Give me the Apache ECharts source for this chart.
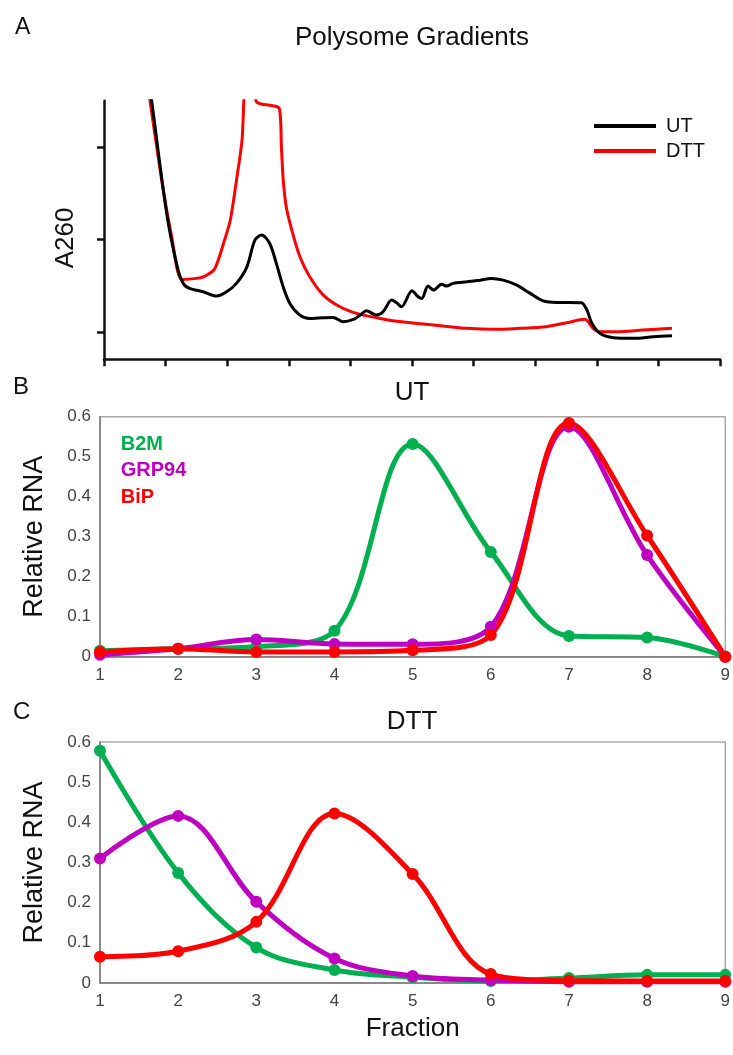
<!DOCTYPE html>
<html><head><meta charset="utf-8">
<script src="https://cdn.jsdelivr.net/npm/echarts@6/dist/echarts.min.js"></script>
<style>html,body{margin:0;padding:0;background:#fff}#c{width:733px;height:1055px}</style>
</head><body><div id="c"></div>
<script>
// ---- Panel A: polysome absorbance traces ([position, A260]) ----
var utTrace = [[0.73,3.0],[0.774,2.79],[1.018,1.573],[1.19,0.998],[1.287,0.819],[1.39,0.765],[1.61,0.729],[1.83,0.682],[1.99,0.729],[2.15,0.819],[2.32,0.998],[2.45,1.286],[2.56,1.34],[2.69,1.25],[2.80,1.03],[2.91,0.78],[3.02,0.60],[3.18,0.477],[3.34,0.44],[3.56,0.448],[3.72,0.452],[3.88,0.405],[4.05,0.43],[4.16,0.477],[4.26,0.524],[4.42,0.477],[4.53,0.513],[4.67,0.639],[4.75,0.61],[4.83,0.567],[5.0,0.739],[5.10,0.675],[5.16,0.657],[5.26,0.79],[5.35,0.747],[5.48,0.811],[5.56,0.79],[5.67,0.819],[5.89,0.836],[6.10,0.854],[6.29,0.873],[6.48,0.854],[6.70,0.80],[6.92,0.711],[7.13,0.63],[7.35,0.614],[7.56,0.614],[7.75,0.61],[7.84,0.531],[7.92,0.388],[8.05,0.28],[8.27,0.233],[8.59,0.226],[8.92,0.244],[9.22,0.255]];
var dttTrace = [[0.70,3.0],[0.747,2.79],[0.937,1.93],[1.10,1.32],[1.26,0.862],[1.50,0.873],[1.64,0.898],[1.80,0.98],[1.94,1.25],[2.05,1.50],[2.15,1.93],[2.24,2.36],[2.27,2.79],[2.31,3.4],[2.42,3.4],[2.47,2.786],[2.846,2.705],[2.88,2.29],[2.91,1.93],[2.96,1.64],[3.05,1.39],[3.18,1.106],[3.34,0.89],[3.56,0.693],[3.83,0.567],[4.10,0.496],[4.43,0.448],[4.75,0.41],[5.10,0.385],[5.35,0.37],[5.89,0.334],[6.32,0.323],[6.75,0.334],[7.18,0.351],[7.51,0.394],[7.81,0.431],[7.86,0.405],[7.94,0.334],[8.05,0.297],[8.32,0.297],[8.75,0.316],[9.22,0.334]];
var aYTicks = [0.29, 1.29, 2.29];

// ---- Panels B and C: relative RNA per fraction ----
var fractions = [1, 2, 3, 4, 5, 6, 7, 8, 9];
var utB2M   = [0.015, 0.02, 0.025, 0.065, 0.532, 0.262, 0.052, 0.048, 0.0];
var utGRP94 = [0.005, 0.02, 0.043, 0.032, 0.031, 0.075, 0.575, 0.254, 0.0];
var utBiP   = [0.012, 0.02, 0.012, 0.012, 0.016, 0.054, 0.584, 0.303, 0.0];
var dttB2M   = [0.578, 0.274, 0.088, 0.032, 0.014, 0.005, 0.012, 0.02, 0.02];
var dttGRP94 = [0.31, 0.416, 0.202, 0.061, 0.017, 0.007, 0.003, 0.003, 0.003];
var dttBiP   = [0.065, 0.079, 0.152, 0.422, 0.271, 0.022, 0.006, 0.005, 0.005];

var FONT = '"Liberation Sans", Arial, sans-serif';
var GREEN = '#00b050', MAG = '#c000c0', RED = '#ff0000';

function pairs(ys) { return fractions.map(function (f, i) { return [f, ys[i]]; }); }
function geneSeries(name, ys, color, idx) {
  return {
    name: name, type: 'line', xAxisIndex: idx, yAxisIndex: idx,
    data: pairs(ys), smooth: 0.35, symbol: 'circle', symbolSize: 12,
    lineStyle: { color: color, width: 5 }, itemStyle: { color: color },
    clip: false
  };
}
function txt(text, x, y, size, opts) {
  opts = opts || {};
  return {
    type: 'text', x: x, y: y, rotation: opts.rot || 0, z: 100,
    style: {
      text: text, fill: opts.color || '#111',
      font: (opts.bold ? 'bold ' : '') + size + 'px ' + FONT,
      align: opts.align || 'left', verticalAlign: 'middle'
    }
  };
}

var blackAxis = { show: true, lineStyle: { color: '#111', width: 2.5 } };
var grayAxis = { show: true, lineStyle: { color: '#777', width: 1.5 } };
var tickLbl = { fontSize: 17, color: '#444', fontFamily: FONT };

var option = {
  animation: false,
  backgroundColor: '#fff',
  textStyle: { fontFamily: FONT },
  grid: [
    { left: 104, right: 13, top: 100.7, bottom: 695.7 },
    { left: 100, right: 3.5, top: 416.7, bottom: 398.3, show: true, borderColor: '#aaa', borderWidth: 1.5 },
    { left: 100, right: 3.5, top: 742, bottom: 72.1, show: true, borderColor: '#aaa', borderWidth: 1.5 }
  ],
  xAxis: [
    { gridIndex: 0, type: 'value', min: 0, max: 10, interval: 1, axisLine: blackAxis,
      axisTick: { show: true, length: 7, lineStyle: { color: '#111', width: 2.5 } },
      axisLabel: { show: false }, splitLine: { show: false } },
    { gridIndex: 1, type: 'value', min: 1, max: 9, interval: 1, axisLine: grayAxis,
      axisTick: { show: false }, axisLabel: Object.assign({ margin: 10 }, tickLbl), splitLine: { show: false } },
    { gridIndex: 2, type: 'value', min: 1, max: 9, interval: 1, axisLine: grayAxis,
      axisTick: { show: false }, axisLabel: Object.assign({ margin: 10 }, tickLbl), splitLine: { show: false },
      name: 'Fraction', nameLocation: 'middle', nameGap: 33,
      nameTextStyle: { fontSize: 26, color: '#111', fontFamily: FONT } }
  ],
  yAxis: [
    { gridIndex: 0, type: 'value', min: 0, max: 2.79, axisLine: blackAxis,
      axisTick: { show: true, length: 7, customValues: aYTicks, lineStyle: { color: '#111', width: 2.5 } },
      axisLabel: { show: false }, splitLine: { show: false } },
    { gridIndex: 1, type: 'value', min: 0, max: 0.6, interval: 0.1, axisLine: grayAxis,
      axisTick: { show: false }, axisLabel: Object.assign({ margin: 9 }, tickLbl), splitLine: { show: false },
      name: 'Relative RNA', nameLocation: 'middle', nameGap: 52,
      nameTextStyle: { fontSize: 27, color: '#111', fontFamily: FONT } },
    { gridIndex: 2, type: 'value', min: 0, max: 0.6, interval: 0.1, axisLine: grayAxis,
      axisTick: { show: false }, axisLabel: Object.assign({ margin: 9 }, tickLbl), splitLine: { show: false },
      name: 'Relative RNA', nameLocation: 'middle', nameGap: 52,
      nameTextStyle: { fontSize: 27, color: '#111', fontFamily: FONT } }
  ],
  legend: {
    data: ['UT', 'DTT'], orient: 'vertical', left: 589, top: 111, itemGap: 5,
    icon: 'rect', itemWidth: 62, itemHeight: 4, selectedMode: false,
    textStyle: { fontSize: 20, color: '#111', fontFamily: FONT, padding: [0, 0, 0, 5] }
  },
  series: [
    { name: 'DTT', type: 'line', xAxisIndex: 0, yAxisIndex: 0, data: dttTrace, showSymbol: false,
      smooth: 0.25, lineStyle: { color: RED, width: 3 }, itemStyle: { color: RED } },
    { name: 'UT', type: 'line', xAxisIndex: 0, yAxisIndex: 0, data: utTrace, showSymbol: false,
      smooth: 0.3, lineStyle: { color: '#000', width: 3 }, itemStyle: { color: '#000' } },
    geneSeries('B2M', utB2M, GREEN, 1),
    geneSeries('GRP94', utGRP94, MAG, 1),
    geneSeries('BiP', utBiP, RED, 1),
    geneSeries('B2M', dttB2M, GREEN, 2),
    geneSeries('GRP94', dttGRP94, MAG, 2),
    geneSeries('BiP', dttBiP, RED, 2)
  ],
  graphic: [
    txt('A', 15, 28, 23),
    txt('Polysome Gradients', 412, 38, 26, { align: 'center' }),
    txt('A260', 66, 238, 26, { align: 'center', rot: Math.PI / 2 }),
    txt('B', 13, 387, 24),
    txt('UT', 412, 393, 26, { align: 'center' }),
    txt('B2M', 120.7, 444, 20, { bold: true, color: GREEN }),
    txt('GRP94', 120.7, 470.5, 20, { bold: true, color: MAG }),
    txt('BiP', 120.7, 497.5, 20, { bold: true, color: RED }),
    txt('C', 13, 712, 24),
    txt('DTT', 412, 722, 26, { align: 'center' })
  ]
};
var chart = echarts.init(document.getElementById('c'), null, { renderer: 'canvas' });
chart.setOption(option);
</script></body></html>
